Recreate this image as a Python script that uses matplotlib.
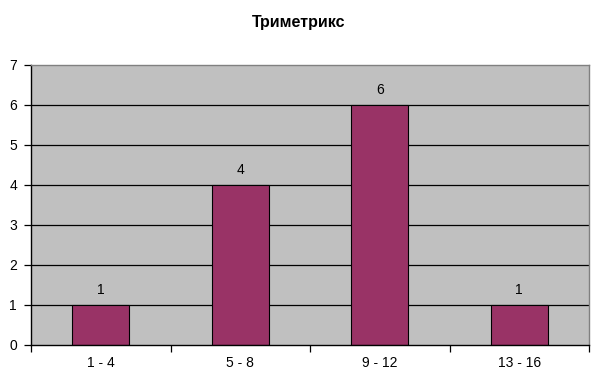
import matplotlib.pyplot as plt
import numpy as np

plt.rcParams['font.family'] = ['Liberation Sans', 'DejaVu Sans']

categories = ['1 - 4', '5 - 8', '9 - 12', '13 - 16']
values = [1, 4, 6, 1]
title = 'Триметрикс'

fig = plt.figure(figsize=(5.97, 3.85), dpi=100)
ax = fig.add_axes([31 / 597, 1 - 345 / 385, 558 / 597, 280 / 385])
ax.set_facecolor('#c0c0c0')

x = np.arange(len(categories))
ax.bar(x, values, width=0.41, color='#993366', edgecolor='black', linewidth=0.8, zorder=3)
for xi, v in zip(x, values):
    ax.text(xi, v + 0.2, str(v), ha='center', va='bottom', fontsize=10, zorder=4)

ax.set_xlim(-0.5, len(categories) - 0.5)
ax.set_ylim(0, 7)
ax.set_yticks(range(0, 8))
for y in range(1, 7):
    ax.axhline(y, color='black', linewidth=0.9, zorder=2)

ax.set_xticks(np.arange(len(categories) + 1) - 0.5)
ax.set_xticklabels([])
ax.set_xticks(x, minor=True)
ax.set_xticklabels(categories, minor=True, fontsize=10)
ax.tick_params(axis='x', which='minor', length=0, pad=8)
ax.tick_params(axis='x', which='major', length=5, width=0.9, direction='out')
ax.tick_params(axis='y', length=5, width=0.9, labelsize=10, pad=5)

ax.spines['left'].set_color('black')
ax.spines['bottom'].set_color('black')
ax.spines['top'].set_color('#808080')
ax.spines['right'].set_color('#808080')
for s in ax.spines.values():
    s.set_linewidth(1.0)
    s.set_zorder(5)

fig.text(0.5, 1 - 22 / 385, title, ha='center', va='center', fontsize=11.5, fontweight='bold')

fig.savefig('out.png', dpi=100)
